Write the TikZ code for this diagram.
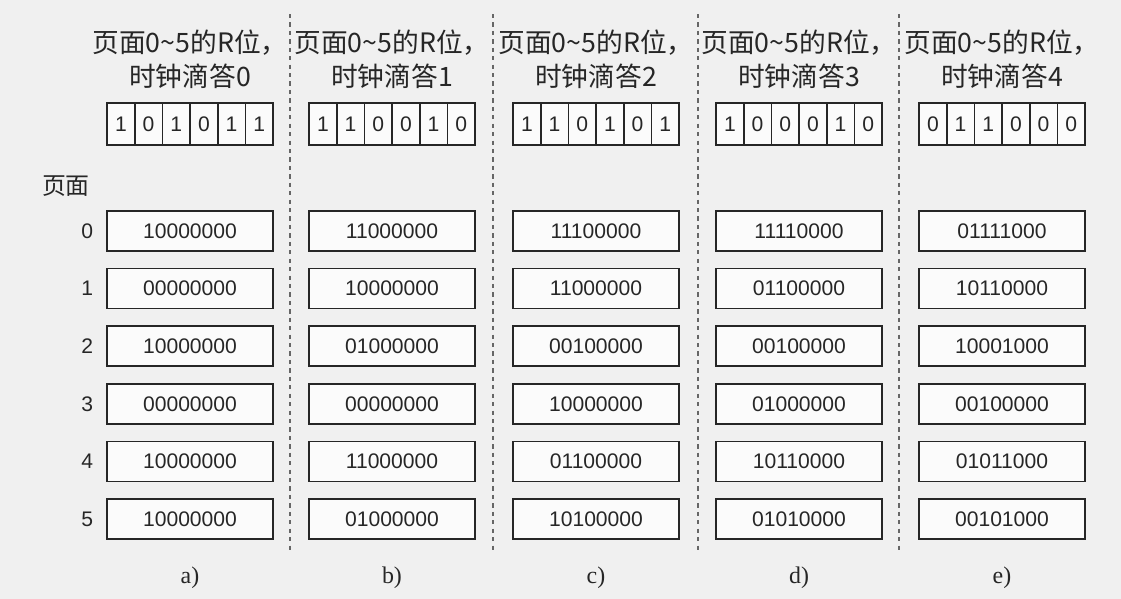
\documentclass[tikz,border=0pt]{standalone}
\usepackage{fontspec}
\setmainfont{Liberation Serif}
\setsansfont{Liberation Sans}
\newfontfamily\cjk{Noto Sans CJK SC}
\usetikzlibrary{positioning}

\begin{document}
\begin{tikzpicture}[
    x=0.025cm, y=-0.025cm,
    counter/.style={rectangle, draw=black!85, fill=white!60!black!4, line width=1.2pt, minimum width=4.15cm, minimum height=1cm, inner sep=0pt, text=black!85, font=\sffamily\fontsize{15}{18}\selectfont},
    rbit/.style={rectangle, draw=black!85, fill=white!60!black!4, line width=1.2pt, minimum width=0.69cm, minimum height=1.05cm, inner sep=0pt, outer sep=0pt, text=black!85, font=\sffamily\fontsize{15}{18}\selectfont},
    title/.style={align=center, text=black!85, font=\cjk\fontsize{19}{24}\selectfont},
    pagenum/.style={text=black!85, font=\sffamily\fontsize{15}{18}\selectfont},
    caption/.style={text=black!85, font=\fontsize{17}{20}\selectfont},
    divider/.style={draw=black!60, dashed, line width=0.8pt}
]

% Background
\fill[black!6] (0,0) rectangle (1121,599);
\useasboundingbox (0,0) rectangle (1121,599);

% Dividers
\foreach \dx in {290,493,698,899}
    \draw[divider] (\dx,14) -- (\dx,553);

% One column per clock tick
\foreach \col/\cx/\bits/\cnts [count=\k from 0] in {
    a/190/{1,0,1,0,1,1}/{10000000,00000000,10000000,00000000,10000000,10000000},
    b/392/{1,1,0,0,1,0}/{11000000,10000000,01000000,00000000,11000000,01000000},
    c/596/{1,1,0,1,0,1}/{11100000,11000000,00100000,10000000,01100000,10100000},
    d/799/{1,0,0,0,1,0}/{11110000,01100000,00100000,01000000,10110000,01010000},
    e/1002/{0,1,1,0,0,0}/{01111000,10110000,10001000,00100000,01011000,00101000}}{
    \node[title] (title-\col) at (\cx,59) {页面0\textasciitilde5的R位，\\时钟滴答\k};
    \foreach \b [count=\i] in \bits
        \node[rbit] (r-\col-\i) at (\cx-96.8+27.67*\i, 124) {\b};
    \foreach \c [count=\j from 0] in \cnts
        \node[counter] (cnt-\col-\j) at (\cx, 231+57.6*\j) {\c};
    \node[caption] (cap-\col) at (\cx,578) {\col)};
}

% Page numbers
\node[title, font=\cjk\fontsize{17}{20}\selectfont] (pages) at (66,186) {页面};
\foreach \p in {0,...,5}
    \node[pagenum, left=0.2cm of cnt-a-\p] (page-\p) {\p};

\end{tikzpicture}
\end{document}
